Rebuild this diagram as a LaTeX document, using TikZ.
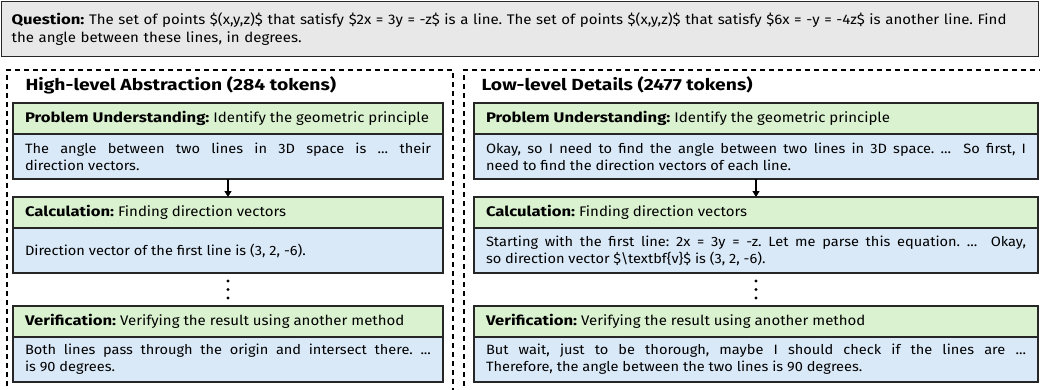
\documentclass[tikz,border=0pt]{standalone}
\usepackage{fontspec}
\setmainfont{Fira Sans}[FakeStretch=1.08,BoldFeatures={FakeStretch=1.2}]
\usetikzlibrary{arrows.meta,positioning}
\definecolor{qgray}{HTML}{E8E8E8}
\definecolor{stagegreen}{HTML}{DAF2D0}
\definecolor{detailblue}{HTML}{DAE9F8}
\definecolor{edgegray}{HTML}{262626}
\frenchspacing

\begin{document}
\begin{tikzpicture}[x=1pt,y=-1pt,>={Triangle[width=7pt,length=6pt]},
  font=\fontsize{13.5}{17}\selectfont,
  box/.style={draw=edgegray,line width=1.3pt,outer sep=0pt,inner xsep=12pt,inner ysep=0pt,align=justify},
  stage/.style={box,fill=stagegreen,minimum height=31pt,font=\fontsize{13.9}{17}\selectfont},
  detail/.style={box,fill=detailblue,minimum height=45pt},
  lcol/.style={text width=406pt},
  rcol/.style={text width=540pt},
  panel/.style={line width=1.1pt,dash pattern=on 5pt off 4pt},
  heading/.style={anchor=west,font=\fontsize{16.1}{20}\selectfont\bfseries},
  flow/.style={->,line width=1.3pt}]
  \useasboundingbox (0,0) rectangle (1040,389);
  \node[draw=edgegray,fill=qgray,line width=1.3pt,anchor=north west,minimum width=1037pt,minimum height=55pt,
    text width=1017pt,inner xsep=10pt,align=left,font=\fontsize{13.9}{18}\selectfont] (question) at (1,1)
    {\textbf{Question:} The set of points \$(x,y,z)\$ that satisfy \$2x = 3y = -z\$ is a line. The set of points \$(x,y,z)\$ that satisfy \$6x = -y = -4z\$ is another line. Find\\
     the angle between these lines, in degrees.\par\vspace{8pt}};
  \draw[panel] (7,395) -- (7,70) -- (453,70) -- (453,395);
  \draw[panel] (464,395) -- (464,70) -- (1045,70) -- (1045,395);
  \node[heading] (lhead) at (22,85) {High-level Abstraction (284 tokens)};
  \node[heading] (rhead) at (478,85) {Low-level Details (2477 tokens)};

  \node[stage,lcol,anchor=north west] (lpu) at (13,103) {\textbf{Problem Understanding:} Identify the geometric principle};
  \node[detail,lcol,below=0pt of lpu] (lpudet) {The angle between two lines in 3D space is ... their\linebreak direction vectors.};
  \node[stage,lcol,below=18pt of lpudet] (lcalc) {\textbf{Calculation:} Finding direction vectors};
  \node[detail,lcol,below=0pt of lcalc] (lcalcdet) {Direction vector of the first line is (3, 2, -6).};
  \node[stage,lcol,below=33pt of lcalcdet] (lverif) {\textbf{Verification:} Verifying the result using another method};
  \node[detail,lcol,below=0pt of lverif] (lverifdet) {Both lines pass through the origin and intersect there. ...\linebreak is 90 degrees.};

  \node[stage,rcol,anchor=north west] (rpu) at (474,103) {\textbf{Problem Understanding:} Identify the geometric principle};
  \node[detail,rcol,below=0pt of rpu] (rpudet) {Okay, so I need to find the angle between two lines in 3D space. ...\ \ So first, I\linebreak need to find the direction vectors of each line.};
  \node[stage,rcol,below=18pt of rpudet] (rcalc) {\textbf{Calculation:} Finding direction vectors};
  \node[detail,rcol,below=0pt of rcalc] (rcalcdet) {Starting with the first line: 2x = 3y = -z. Let me parse this equation. ...\ \ Okay,\linebreak so direction vector \$\textbackslash textbf\{v\}\$ is (3, 2, -6).};
  \node[stage,rcol,below=33pt of rcalcdet] (rverif) {\textbf{Verification:} Verifying the result using another method};
  \node[detail,rcol,below=0pt of rverif] (rverifdet) {But wait, just to be thorough, maybe I should check if the lines are ...\linebreak Therefore, the angle between the two lines is 90 degrees.};

  \draw[flow] (lpudet) -- (lcalc);
  \draw[flow] (rpudet) -- (rcalc);
  \coordinate[below=8pt of lcalcdet] (lgap);
  \coordinate[below=8pt of rcalcdet] (rgap);
  \foreach \dy in {0,8.5,17} {
    \fill ([yshift=-\dy pt]lgap) circle (1.7pt);
    \fill ([yshift=-\dy pt]rgap) circle (1.7pt);
  }
\end{tikzpicture}
\end{document}
